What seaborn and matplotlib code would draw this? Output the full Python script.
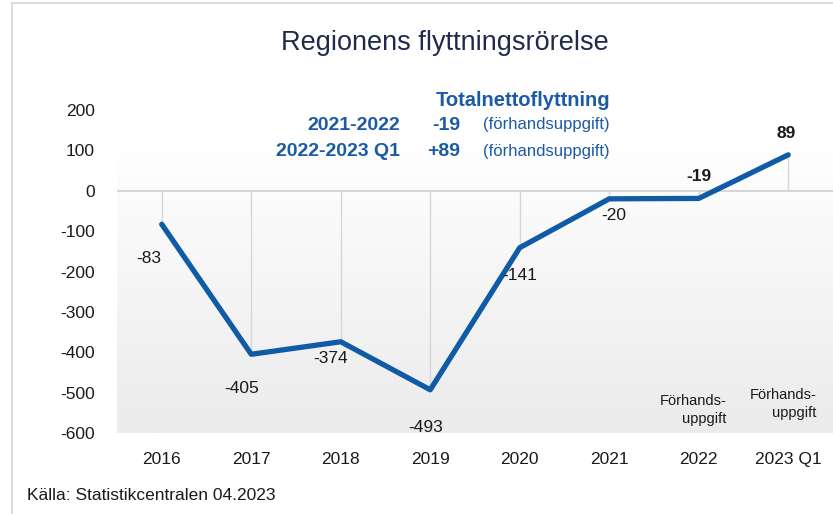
import numpy as np
import pandas as pd
import seaborn as sns
import matplotlib.pyplot as plt
from matplotlib.patches import Rectangle
from matplotlib.colors import LinearSegmentedColormap

# data
categories = ['2016', '2017', '2018', '2019', '2020', '2021', '2022', '2023 Q1']
net_migration = [-83, -405, -374, -493, -141, -20, -19, 89]
y_ticks = [-600, -500, -400, -300, -200, -100, 0, 100, 200]
# label offsets in pixels (dx, dy) and whether bold
label_offsets = [(-13, -34), (-10, -34), (-10, -17), (-5, -38), (0, -28), (5, -17), (0, 22), (-2, 21)]
label_bold = [False, False, False, False, False, False, True, True]

line_color = '#0f5ba6'
text_blue = '#1b5ba5'

sns.set_theme(style='white')
plt.rcParams['font.family'] = ['Liberation Sans', 'DejaVu Sans']

df = pd.DataFrame({'period': categories, 'value': net_migration})

fig = plt.figure(figsize=(8.33, 5.14), dpi=100)
fig.patch.set_facecolor('white')
# outer chart border (cut off on right / bottom like the source)
fig.patches.append(Rectangle((12 / 833, -0.1), 2, 1.1 - 3 / 514, transform=fig.transFigure,
                             fill=False, edgecolor='#d4d4d4', linewidth=1.2))

ax = fig.add_axes([117 / 833, 1 - 433 / 514, 1 - 117 / 833, (433 - 110) / 514])

# gradient background in the plot area
grad = np.linspace(1, 0, 256).reshape(-1, 1)
ax.imshow(grad, extent=[-0.5, len(categories) - 0.5, -600, 115], aspect='auto',
          cmap=LinearSegmentedColormap.from_list('g', ['#ebebeb', '#ffffff']),
          zorder=0)

xs = np.arange(len(categories))
ax.axhline(0, color='#d0d0d0', linewidth=1.2, zorder=1)
ax.vlines(xs, 0, net_migration, color='#d6d6d6', linewidth=1, zorder=1)

sns.lineplot(data=df, x='period', y='value', sort=False, color=line_color,
             linewidth=3.8, ax=ax, zorder=3)

for i, v in enumerate(net_migration):
    dx, dy = label_offsets[i]
    ax.annotate(str(v), (xs[i], v), xytext=(dx, dy), textcoords='offset pixels',
                ha='center', va='center', fontsize=12.5, color='#1a1a1a',
                fontweight='bold' if label_bold[i] else 'normal')

ax.set_xlim(-0.5, len(categories) - 0.5)
ax.set_ylim(-600, 200)
ax.set_yticks(y_ticks)
ax.set_yticklabels([str(t) for t in y_ticks], fontsize=12.5, color='#1a1a1a')
ax.set_xticks(xs)
ax.set_xticklabels(categories, fontsize=12.5, color='#1a1a1a')
ax.tick_params(axis='y', length=0, pad=16)
ax.tick_params(axis='x', length=0, pad=14)
ax.set_xlabel('')
ax.set_ylabel('')
for s in ax.spines.values():
    s.set_visible(False)
ax.grid(False)

# preliminary notes above last two categories
for i, dy in [(6, 23), (7, 29)]:
    ax.annotate('Förhands-\nuppgift', (xs[i], -600), xytext=(28, dy),
                textcoords='offset pixels', ha='right', va='center',
                fontsize=10.5, color='#1a1a1a', linespacing=1.3)

# title
fig.text(445 / 833, 1 - 43 / 514, 'Regionens flyttningsrörelse', ha='center', va='center',
         fontsize=19.5, color='#1f2b4d')

# summary block
fig.text(610 / 833, 1 - 101 / 514, 'Totalnettoflyttning', ha='right', va='center',
         fontsize=14.5, fontweight='bold', color=text_blue)
rows = [('2021-2022', '-19', 125), ('2022-2023 Q1', '+89', 151)]
for period, val, y in rows:
    fig.text(400 / 833, 1 - y / 514, period, ha='right', va='center',
             fontsize=14, fontweight='bold', color=text_blue)
    fig.text(460 / 833, 1 - y / 514, val, ha='right', va='center',
             fontsize=14, fontweight='bold', color=text_blue)
    fig.text(610 / 833, 1 - y / 514, '(förhandsuppgift)', ha='right', va='center',
             fontsize=12, color=text_blue)

fig.text(27 / 833, 1 - 495 / 514, 'Källa: Statistikcentralen 04.2023', ha='left', va='center',
         fontsize=12.5, color='#1a1a1a')

fig.savefig('out.png', dpi=100)
